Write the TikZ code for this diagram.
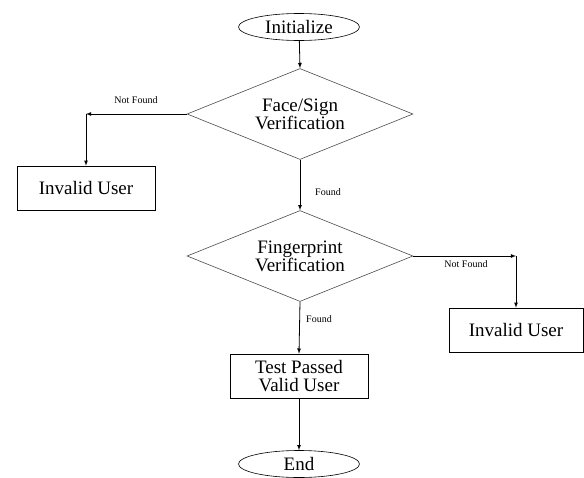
\documentclass[tikz,border=0pt]{standalone}
\usepackage{fontspec}
\setmainfont{Liberation Serif}
\usetikzlibrary{arrows,calc,shapes,shapes.geometric}

\begin{document}
\begin{tikzpicture}[x=1pt,y=-1pt,
	every node/.style={font=\fontsize{19}{18}\selectfont, align=center, inner sep=0pt},
	term/.style={draw, ellipse, line width=0.6pt, minimum width=121pt, minimum height=27pt},
	test/.style={draw=black!70, diamond, line width=0.6pt, aspect=2.5, minimum width=226pt, minimum height=91pt},
	proc/.style={draw, rectangle, line width=0.6pt, minimum width=138pt, minimum height=44pt},
	tag/.style={font=\fontsize{10}{10}\selectfont},
	flow/.style={-latex, line width=0.8pt}]

	\useasboundingbox (0,0) rectangle (584,477);

	\node[term] (init) at (299,27) {Initialize};
	\node[test] (face) at (300,114) {Face/Sign\\Verification};
	\node[proc] (invalidL) at (86,188) {Invalid User};
	\node[test] (finger) at (300,256) {Fingerprint\\Verification};
	\node[proc, minimum width=134pt] (invalidR) at (516,330) {Invalid User};
	\node[proc] (valid) at (299,376) {Test Passed\\Valid User};
	\node[term] (end) at (299,464) {End};

	\coordinate (turnL) at (86,114);
	\coordinate (turnR) at (516,256);

	\draw[flow] (init) -- (face.north);
	\draw[flow] (face.west) -- (turnL);
	\draw[flow] (turnL) -- (invalidL.north);
	\draw[flow] (face.south) -- (finger.north);
	\draw[flow] (finger.east) -- (turnR);
	\draw[flow] (turnR) -- (invalidR.north);
	\draw[flow] (finger.south) -- (valid.north);
	\draw[flow] (valid) -- (end.north);

	\node[tag] (nfL) at (136,100) {Not Found};
	\node[tag] (fd1) at (328,192) {Found};
	\node[tag] (nfR) at (466,264) {Not Found};
	\node[tag] (fd2) at (319,319) {Found};

\end{tikzpicture}
\end{document}
